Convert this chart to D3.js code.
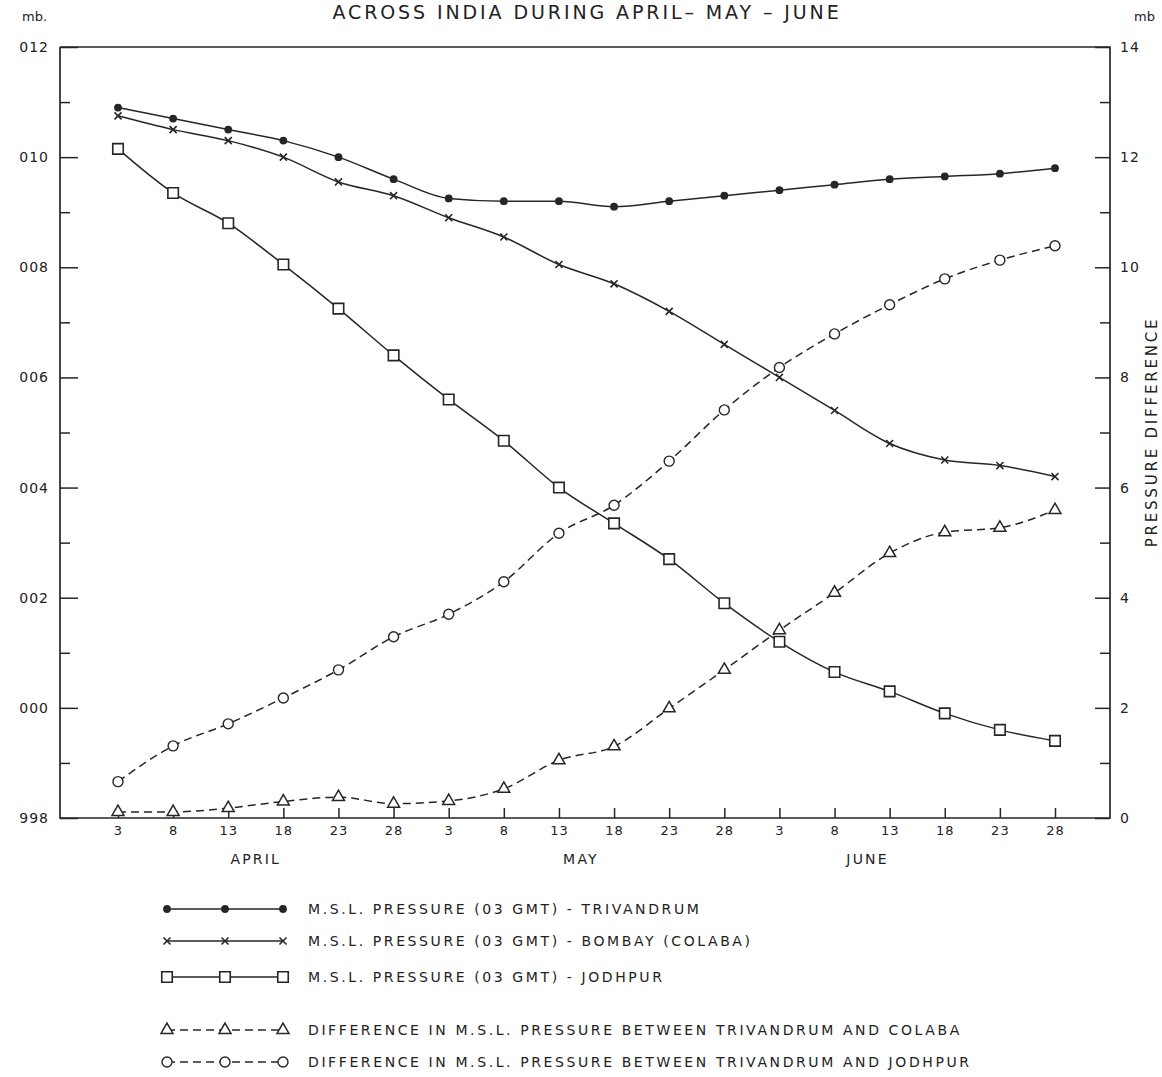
<!DOCTYPE html>
<html>
<head>
<meta charset="utf-8">
<script src="https://cdn.jsdelivr.net/npm/d3@7"></script>
<style>
  body { margin: 0; background: #fff; }
  svg text { font-family: "DejaVu Sans", "Liberation Sans", sans-serif; fill: #222; }
</style>
</head>
<body>
<svg id="chart" width="1162" height="1077"></svg>
<script>
// Pentad dates, 3 April to 28 June
const dayLabels = ["3", "8", "13", "18", "23", "28", "3", "8", "13", "18", "23", "28", "3", "8", "13", "18", "23", "28"];
const monthNames = ["APRIL", "MAY", "JUNE"];

// Mean sea-level pressure at 03 GMT (mb)
const trivandrum = [1010.9, 1010.7, 1010.5, 1010.3, 1010.0, 1009.6, 1009.25, 1009.2, 1009.2, 1009.1, 1009.2, 1009.3, 1009.4, 1009.5, 1009.6, 1009.65, 1009.7, 1009.8];
const bombay     = [1010.75, 1010.5, 1010.3, 1010.0, 1009.55, 1009.3, 1008.9, 1008.55, 1008.05, 1007.7, 1007.2, 1006.6, 1006.0, 1005.4, 1004.8, 1004.5, 1004.4, 1004.2];
const jodhpur    = [1010.15, 1009.35, 1008.8, 1008.05, 1007.25, 1006.4, 1005.6, 1004.85, 1004.0, 1003.35, 1002.7, 1001.9, 1001.2, 1000.65, 1000.3, 999.9, 999.6, 999.4];

// Pressure differences (mb), right-hand scale
const diffColaba  = [0.11, 0.11, 0.18, 0.3, 0.38, 0.26, 0.31, 0.53, 1.05, 1.3, 1.99, 2.69, 3.41, 4.09, 4.81, 5.19, 5.27, 5.59];
const diffJodhpur = [0.66, 1.31, 1.71, 2.18, 2.69, 3.29, 3.7, 4.29, 5.17, 5.68, 6.48, 7.41, 8.18, 8.79, 9.32, 9.79, 10.13, 10.39];

const legendLabels = [
  "M.S.L. PRESSURE (03 GMT) - TRIVANDRUM",
  "M.S.L. PRESSURE (03 GMT) - BOMBAY (COLABA)",
  "M.S.L. PRESSURE (03 GMT) - JODHPUR",
  "DIFFERENCE IN M.S.L. PRESSURE BETWEEN TRIVANDRUM AND COLABA",
  "DIFFERENCE IN M.S.L. PRESSURE BETWEEN TRIVANDRUM AND JODHPUR"
];

const svg = d3.select("#chart");
const ink = "#262626";
const frame = { left: 60, right: 1110, top: 47, bottom: 818 };

const x = d3.scaleLinear().domain([0, dayLabels.length - 1]).range([118, 1055]);
const yL = d3.scaleLinear().domain([998, 1012]).range([frame.bottom, frame.top]);
const yR = d3.scaleLinear().domain([0, 14]).range([frame.bottom, frame.top]);

// Title (first line lies above the page edge)
svg.append("text")
  .attr("x", 587).attr("y", 19)
  .attr("text-anchor", "middle")
  .style("font-size", "19px").style("letter-spacing", "2.9px")
  .text("ACROSS INDIA DURING APRIL\u2013 MAY \u2013 JUNE");

svg.append("text").attr("x", 22).attr("y", 21).style("font-size", "13px").text("mb.");
svg.append("text").attr("x", 1134).attr("y", 21).style("font-size", "13px").text("mb");

// Frame
svg.append("path")
  .attr("d", d3.line()([[frame.left, frame.top], [frame.right, frame.top], [frame.right, frame.bottom], [frame.left, frame.bottom], [frame.left, frame.top]]))
  .attr("stroke", ink).attr("stroke-width", 1.7).attr("fill", "none");

function styleAxis(g, fontSize, spacing) {
  g.select(".domain").remove();
  g.selectAll("line").attr("stroke", ink).attr("stroke-width", 1.5);
  g.selectAll("text")
    .style("font-size", fontSize)
    .style("letter-spacing", spacing || "0px")
    .style("font-family", "\"DejaVu Sans\", sans-serif")
    .attr("fill", "#222");
}

// Left axis: minor ticks every mb, labelled every 2 mb
const leftFmt = d => d >= 1000 ? d3.format("03")(d - 1000) : String(d);
svg.append("g").attr("transform", `translate(${frame.left},0)`)
  .call(d3.axisLeft(yL).tickValues(d3.range(999, 1012, 2)).tickSize(-10).tickFormat(""))
  .call(g => styleAxis(g, "14px"));
svg.append("g").attr("transform", `translate(${frame.left},0)`)
  .call(d3.axisLeft(yL).tickValues(d3.range(998, 1013, 2)).tickSize(-18).tickPadding(11).tickFormat(leftFmt))
  .call(g => styleAxis(g, "14px", "1px"));

// Right axis
svg.append("g").attr("transform", `translate(${frame.right},0)`)
  .call(d3.axisRight(yR).tickValues(d3.range(1, 14, 2)).tickSize(-10).tickFormat(""))
  .call(g => styleAxis(g, "14px"));
svg.append("g").attr("transform", `translate(${frame.right},0)`)
  .call(d3.axisRight(yR).tickValues(d3.range(0, 15, 2)).tickSize(-15).tickPadding(10))
  .call(g => styleAxis(g, "14px", "1px"));

svg.append("text")
  .attr("transform", `translate(1157,432) rotate(-90)`)
  .attr("text-anchor", "middle")
  .style("font-size", "15px").style("letter-spacing", "2.8px")
  .text("PRESSURE  DIFFERENCE");

// Bottom axis with pentad days
svg.append("g").attr("transform", `translate(0,${frame.bottom})`)
  .call(d3.axisBottom(x).tickValues(d3.range(dayLabels.length)).tickSize(-10).tickPadding(8).tickFormat(i => dayLabels[i]))
  .call(g => styleAxis(g, "13px", "1px"));

const monthAt = [2.5, 8.4, 13.6];
svg.selectAll(".month").data(monthNames).join("text")
  .attr("class", "month")
  .attr("x", (d, i) => x(monthAt[i])).attr("y", frame.bottom + 46)
  .attr("text-anchor", "middle")
  .style("font-size", "14px").style("letter-spacing", "2.2px")
  .text(d => d);

// Marker drawing
function marker(g, kind) {
  if (kind === "dot") {
    g.append("circle").attr("r", 3.9).attr("fill", ink);
  } else if (kind === "cross") {
    g.append("path").attr("d", d3.symbol(d3.symbolX, 34)()).attr("stroke", ink).attr("stroke-width", 1.6).attr("fill", "none");
  } else if (kind === "square") {
    g.append("path").attr("d", d3.symbol(d3.symbolSquare, 110)()).attr("stroke", ink).attr("stroke-width", 1.6).attr("fill", "#fff");
  } else if (kind === "triangle") {
    g.append("path").attr("d", d3.symbol(d3.symbolTriangle, 62)()).attr("stroke", ink).attr("stroke-width", 1.5).attr("fill", "#fff");
  } else if (kind === "ring") {
    g.append("circle").attr("r", 5).attr("stroke", ink).attr("stroke-width", 1.4).attr("fill", "#fff");
  }
}

const series = [
  { values: trivandrum, scale: yL, kind: "dot", dash: null },
  { values: bombay, scale: yL, kind: "cross", dash: null },
  { values: jodhpur, scale: yL, kind: "square", dash: null },
  { values: diffColaba, scale: yR, kind: "triangle", dash: "8,5" },
  { values: diffJodhpur, scale: yR, kind: "ring", dash: "8,5" }
];

const plot = svg.append("g");
series.forEach(s => {
  const line = d3.line().x((d, i) => x(i)).y(d => s.scale(d)).curve(d3.curveMonotoneX);
  plot.append("path")
    .attr("d", line(s.values))
    .attr("fill", "none").attr("stroke", ink).attr("stroke-width", 1.5)
    .attr("stroke-dasharray", s.dash);
});
series.forEach(s => {
  plot.selectAll(null).data(s.values).join("g")
    .attr("transform", (d, i) => `translate(${x(i)},${s.scale(d)})`)
    .each(function () { marker(d3.select(this), s.kind); });
});

// Legend
const legendRows = [909, 941, 977, 1030, 1062];
const legendMarks = [167, 225, 283];
series.forEach((s, i) => {
  const y0 = legendRows[i];
  svg.append("line")
    .attr("x1", legendMarks[0]).attr("x2", legendMarks[2]).attr("y1", y0).attr("y2", y0)
    .attr("stroke", ink).attr("stroke-width", 1.5).attr("stroke-dasharray", s.dash);
  legendMarks.forEach(mx => marker(svg.append("g").attr("transform", `translate(${mx},${y0})`), s.kind));
  svg.append("text")
    .attr("x", 308).attr("y", y0 + 5)
    .style("font-size", "14px").style("letter-spacing", "2.6px")
    .text(legendLabels[i]);
});
</script>
</body>
</html>
